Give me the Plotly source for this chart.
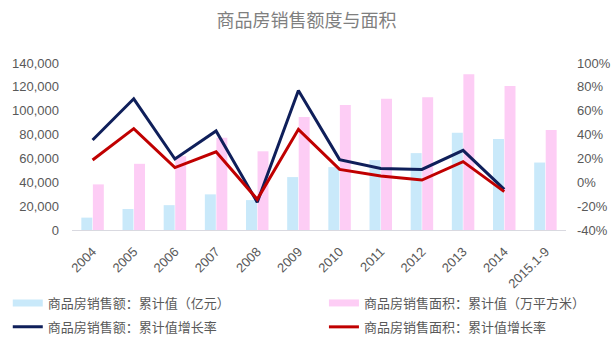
import plotly.graph_objects as go

categories = ["2004", "2005", "2006", "2007", "2008", "2009", "2010", "2011", "2012", "2013", "2014", "2015.1-9"]
sales_value = [10376, 17576, 20826, 29889, 25068, 44355, 52721, 58589, 64456, 81428, 76292, 56553]
area_value = [38232, 55486, 61857, 77355, 65970, 94755, 104765, 109946, 111304, 130551, 120649, 83802]
sales_growth = [35.5, 70.0, 19.5, 43.0, -16.8, 77.0, 19.0, 11.5, 10.8, 26.8, -6.0, None]
area_growth = [18.7, 45.0, 12.3, 25.6, -14.3, 44.4, 10.8, 5.3, 1.9, 17.3, -7.8, None]

left_ticks = [0, 20000, 40000, 60000, 80000, 100000, 120000, 140000]
right_ticks = [-40, -20, 0, 20, 40, 60, 80, 100]
right_labels = ["-40%", "-20%", "0%", "20%", "40%", "60%", "80%", "100%"]

name_sales = "商品房销售额：累计值（亿元）"
name_area = "商品房销售面积：累计值（万平方米）"
name_sales_g = "商品房销售额：累计值增长率"
name_area_g = "商品房销售面积：累计值增长率"

C_BLUE = "#C9E9FA"
C_PINK = "#FDCDF5"
C_NAVY = "#0F1F5A"
C_RED = "#C00000"
TXT = "#595959"
FONT = "Liberation Sans, Arial, sans-serif"
CJK = "Noto Sans CJK SC, sans-serif"

fig = go.Figure()
fig.add_trace(go.Bar(x=categories, y=sales_value, name=name_sales, marker=dict(color=C_BLUE, line=dict(width=0)),
                     showlegend=False, yaxis="y"))
fig.add_trace(go.Bar(x=categories, y=area_value, name=name_area, marker=dict(color=C_PINK, line=dict(width=0)),
                     showlegend=False, yaxis="y"))
fig.add_trace(go.Scatter(x=categories, y=sales_growth, name=name_sales_g, mode="lines",
                         line=dict(color=C_NAVY, width=3), yaxis="y2", showlegend=False))
fig.add_trace(go.Scatter(x=categories, y=area_growth, name=name_area_g, mode="lines",
                         line=dict(color=C_RED, width=3), yaxis="y2", showlegend=False))

# legend-only entries (wide swatches like the original), two legend columns
legend_items = [
    (name_sales, C_BLUE, 7, "legend", "a"),
    (name_sales_g, C_NAVY, 3, "legend", "b"),
    (name_area, C_PINK, 7, "legend2", "c"),
    (name_area_g, C_RED, 3, "legend2", "d"),
]
for nm, col, w, lg, grp in legend_items:
    fig.add_trace(go.Scatter(x=[None], y=[None], name=nm, mode="lines", line=dict(color=col, width=w),
                             showlegend=True, yaxis="y", legend=lg, legendgroup=grp))

legend_common = dict(orientation="v", yanchor="top", yref="container",
                     tracegroupgap=4, traceorder="grouped",
                     font=dict(family=CJK, size=13, color=TXT), itemwidth=30, bgcolor="rgba(0,0,0,0)")

fig.update_layout(
    width=613, height=343,
    margin=dict(l=72, r=47, t=63, b=113),
    paper_bgcolor="white", plot_bgcolor="white",
    barmode="group", bargap=0.44, bargroupgap=0.05,
    title=dict(text="商品房销售额度与面积", x=0.5, xanchor="center", y=0.94, yanchor="middle",
               font=dict(family=CJK, size=18, color="#7F7F7F")),
    font=dict(family=FONT, size=13, color=TXT),
    xaxis=dict(type="category", tickangle=-45, showgrid=False, showline=True, linecolor="#D9D9E0",
               linewidth=1, ticks="", ticklabelstandoff=8, automargin=False,
               tickfont=dict(family=FONT, size=13, color=TXT), zeroline=False),
    yaxis=dict(range=[0, 140000], tickvals=left_ticks, tickformat=",d", showgrid=False, zeroline=False,
               showline=False, ticks="", ticklabelstandoff=12, automargin=False,
               tickfont=dict(family=FONT, size=13, color=TXT)),
    yaxis2=dict(range=[-40, 100], tickvals=right_ticks, ticktext=right_labels, overlaying="y", side="right",
                showgrid=False, zeroline=False, showline=False, ticks="", ticklabelstandoff=10, automargin=False,
                tickfont=dict(family=FONT, size=13, color=TXT)),
    legend=dict(x=-0.13, xanchor="left", y=1 - 288 / 343, **legend_common),
    legend2=dict(x=0.51, xanchor="left", y=1 - 288 / 343, **legend_common),
)

fig.write_html("out.html")
